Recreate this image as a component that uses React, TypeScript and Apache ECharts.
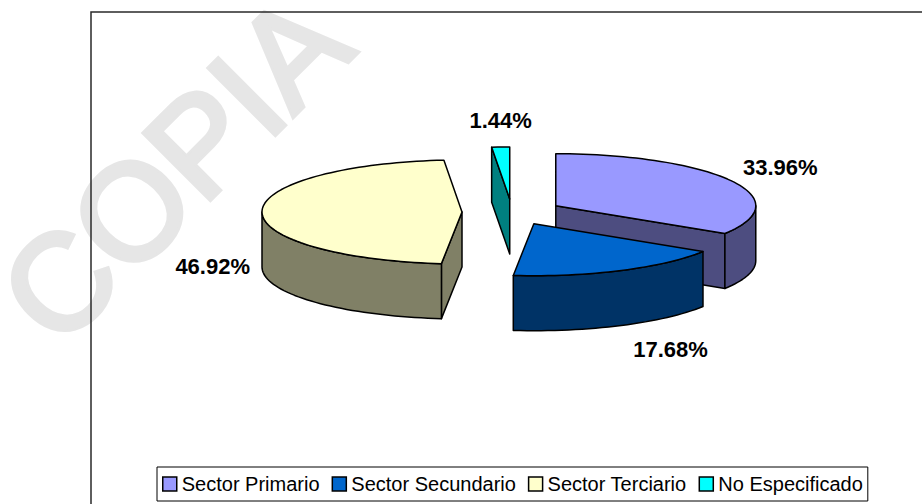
import React, { useEffect, useRef } from "react";
import * as echarts from "echarts";

const categories = ["Sector Primario", "Sector Secundario", "Sector Terciario", "No Especificado"];
const percentages = [33.96, 17.68, 46.92, 1.44];
const topColors = ["#9999FF", "#0066CC", "#FFFFCC", "#00FFFF"];
const sideColors = ["#4D4D80", "#003366", "#808066", "#008080"];
const watermarkText = "COPIA";

export default function App() {
  const ref = useRef<HTMLDivElement>(null);

  useEffect(() => {
    const el = ref.current;
    if (!el) return;
    const chart = echarts.init(el, null, { renderer: "svg" });

    const total = percentages.reduce((a, b) => a + b, 0);
    const starts: number[] = [];
    let acc = 0;
    percentages.forEach((v) => {
      starts.push(acc);
      acc += v;
    });

    const CX = 512;
    const CY = 212;
    const RX = 200;
    const RY = 52;
    const H = 55;
    const EXPLODE = 0.25;
    const TAU = Math.PI * 2;
    const FONT = "Liberation Sans, Arial, sans-serif";

    const apexOf = (mid: number) => [
      CX + EXPLODE * RX * Math.sin(mid),
      CY - EXPLODE * RY * Math.cos(mid),
    ];

    const depthOf = (i: number) => {
      const a0 = (starts[i] / total) * TAU;
      const a1 = ((starts[i] + percentages[i]) / total) * TAU;
      const mid = (a0 + a1) / 2;
      const [, ay] = apexOf(mid);
      return ay - RY * Math.cos(mid) * 0.5;
    };
    const order = categories.map((_, i) => i).sort((a, b) => depthOf(a) - depthOf(b));
    const zOf: number[] = [];
    order.forEach((idx, k) => (zOf[idx] = 2 + k));

    const renderItem = (params: any, api: any) => {
      const i = params.seriesIndex;
      const start = api.value(0);
      const val = api.value(1);
      const a0 = (start / total) * TAU;
      const a1 = ((start + val) / total) * TAU;
      const mid = (a0 + a1) / 2;
      const [ax, ay] = apexOf(mid);
      const pt = (t: number, z: number) => [ax + RX * Math.sin(t), ay - RY * Math.cos(t) + z];
      const arc = (t0: number, t1: number, z: number) => {
        const pts: number[][] = [];
        const n = Math.max(2, Math.ceil((t1 - t0) / (Math.PI / 90)));
        for (let k = 0; k <= n; k++) pts.push(pt(t0 + ((t1 - t0) * k) / n, z));
        return pts;
      };
      const baseStyle = { stroke: "#000", lineWidth: 1.5, lineJoin: "round" };
      const children: any[] = [];
      // radial start face
      if (-Math.sin(a0) > 1e-6) {
        const o = pt(a0, 0);
        const ob = pt(a0, H);
        children.push({
          type: "polygon",
          shape: { points: [[ax, ay], o, ob, [ax, ay + H]] },
          style: { ...baseStyle, fill: sideColors[i] },
        });
      }
      // radial end face
      if (Math.sin(a1) > 1e-6) {
        const o = pt(a1, 0);
        const ob = pt(a1, H);
        children.push({
          type: "polygon",
          shape: { points: [[ax, ay], o, ob, [ax, ay + H]] },
          style: { ...baseStyle, fill: sideColors[i] },
        });
      }
      // curved outer side (front half only)
      const s0 = Math.max(a0, Math.PI / 2);
      const s1 = Math.min(a1, (Math.PI * 3) / 2);
      if (s1 > s0) {
        const topArc = arc(s0, s1, 0);
        const botArc = arc(s0, s1, H).reverse();
        children.push({
          type: "polygon",
          shape: { points: topArc.concat(botArc) },
          style: { ...baseStyle, fill: sideColors[i] },
        });
      }
      // top face
      children.push({
        type: "polygon",
        shape: { points: [[ax, ay]].concat(arc(a0, a1, 0)) },
        style: { ...baseStyle, fill: topColors[i] },
      });
      // label
      const ux = Math.sin(mid);
      const uy = -Math.cos(mid);
      const ox = ax + RX * ux;
      const oy = ay + RY * uy + (uy > -0.05 ? H : 0);
      const centered = Math.abs(ux) < 0.3;
      children.push({
        type: "text",
        x: ox + (centered ? 0 : Math.sign(ux) * 12),
        y: oy + uy * 27,
        style: {
          text: val.toFixed(2) + "%",
          fill: "#000",
          font: "bold 22px " + FONT,
          align: centered ? "center" : ux > 0 ? "left" : "right",
          verticalAlign: "middle",
        },
      });
      return { type: "group", children };
    };

    const series = categories.map((name, i) => ({
      type: "custom",
      name,
      coordinateSystem: "none",
      renderItem,
      silent: true,
      z: zOf[i],
      itemStyle: { color: topColors[i] },
      data: [[starts[i], percentages[i]]],
    }));

    chart.setOption({
      animation: false,
      backgroundColor: "#fff",
      color: topColors,
      legend: {
        data: categories,
        left: 157,
        top: 467,
        icon: "rect",
        itemWidth: 14,
        itemHeight: 14,
        itemGap: 12,
        padding: [7, 5, 7, 5],
        borderColor: "#000",
        borderWidth: 1,
        backgroundColor: "#fff",
        selectedMode: false,
        itemStyle: { borderColor: "#000", borderWidth: 1.5 },
        textStyle: { fontFamily: FONT, fontSize: 20, color: "#000" },
      },
      graphic: [
        {
          type: "text",
          z: 0,
          x: 25,
          y: 318,
          rotation: (45 * Math.PI) / 180,
          silent: true,
          style: {
            text: watermarkText,
            font: "136px " + FONT,
            fill: "#e6e6e6",
            stroke: "#e6e6e6",
            lineWidth: 5,
            lineJoin: "round",
            lineCap: "round",
            align: "left",
            verticalAlign: "middle",
          },
        },
        {
          type: "rect",
          z: 1,
          silent: true,
          shape: { x: 91, y: 12, width: 1000, height: 700 },
          style: { fill: "none", stroke: "#2a2a2a", lineWidth: 1.5 },
        },
      ],
      series,
    });

    return () => chart.dispose();
  }, []);

  return (
    <div
      ref={ref}
      style={{ position: "fixed", left: 0, top: 0, width: 922, height: 504 }}
    />
  );
}
